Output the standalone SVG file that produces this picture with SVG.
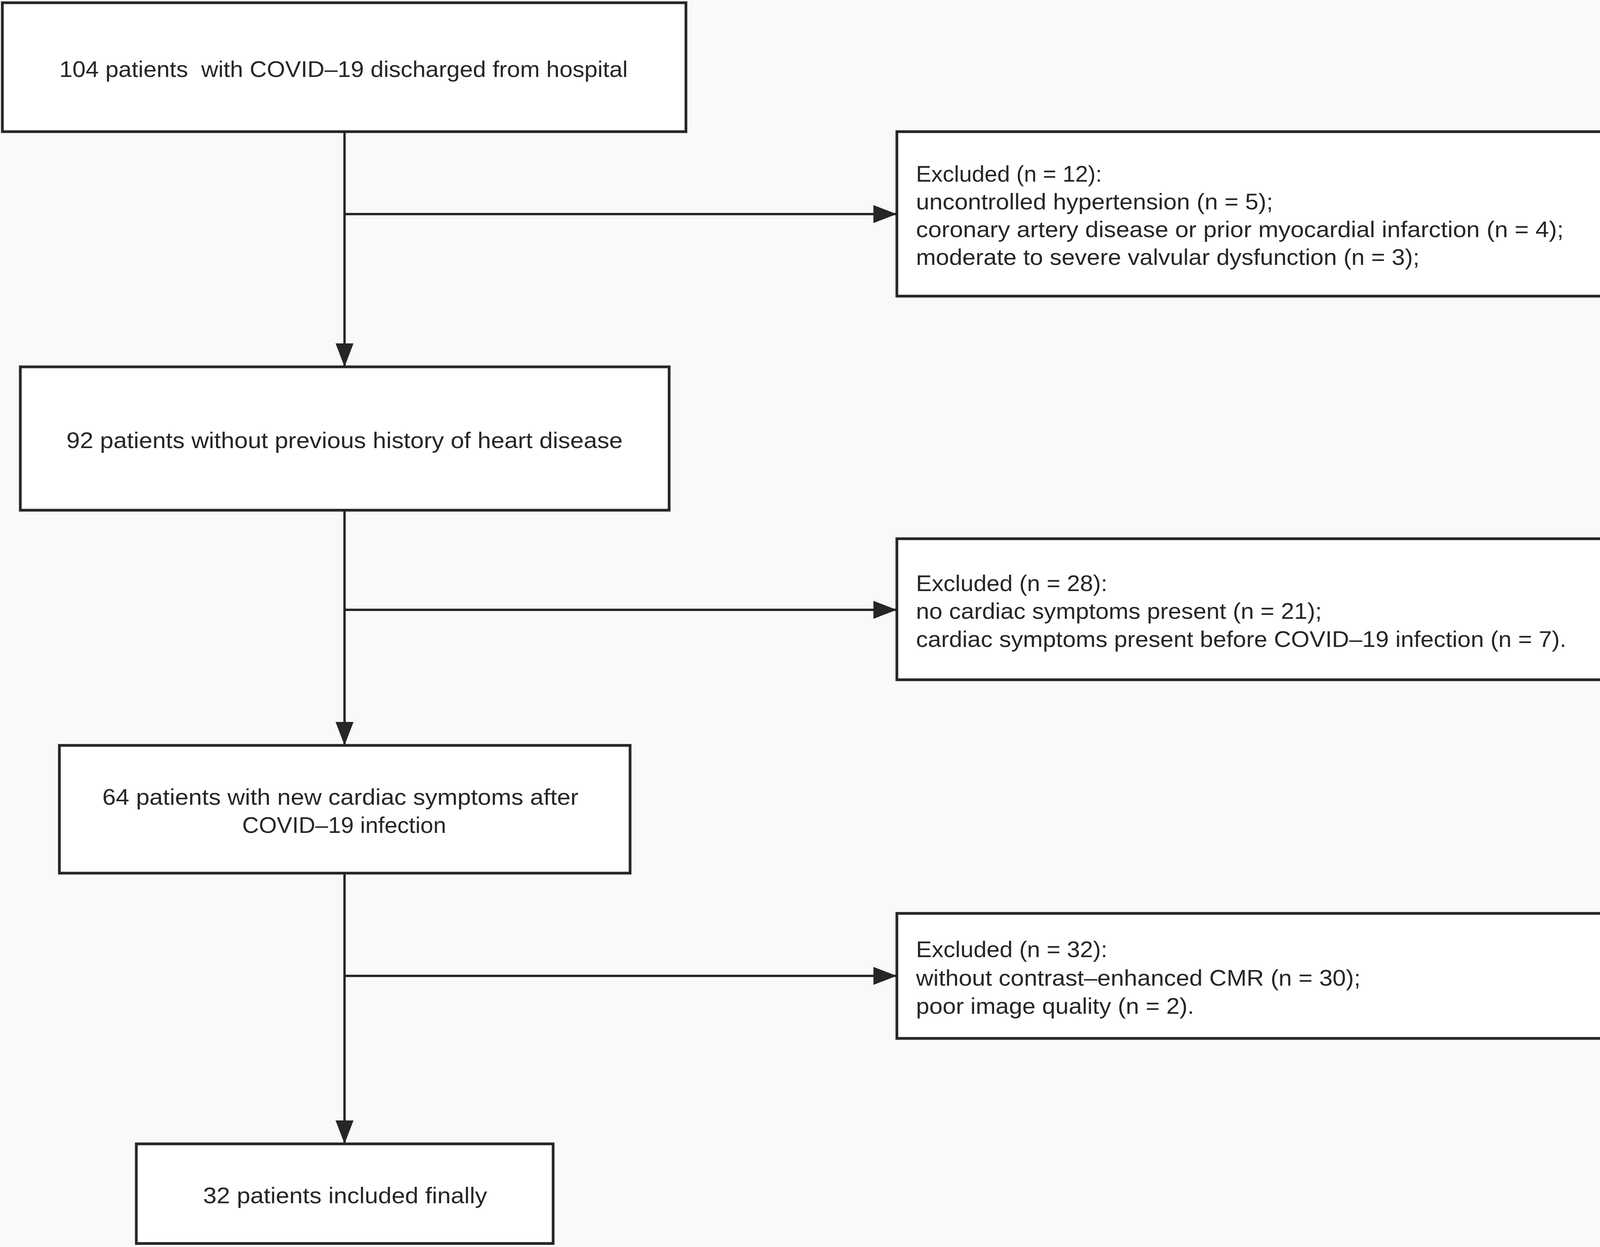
<svg xmlns="http://www.w3.org/2000/svg" width="4317" height="3192" viewBox="0 0 4317 3192">
<style>
  .box { fill: #ffffff; stroke: #262626; stroke-width: 7; }
  .conn { fill: none; stroke: #262626; stroke-width: 6; }
  .t { font-family: "Liberation Sans", Arial, sans-serif; font-size: 57px; fill: #262626; }
</style>
<defs>
  <marker id="ah" markerWidth="60" markerHeight="46" refX="60" refY="23" orient="auto" markerUnits="userSpaceOnUse">
    <path d="M0,0 L60,23 L0,46 Z" fill="#262626"/>
  </marker>
</defs>
<rect x="0" y="0" width="4317" height="3192" fill="#f9f9f9"/>

<g id="connectors">
  <line class="conn" x1="882" y1="337" x2="882" y2="939" marker-end="url(#ah)"/>
  <line class="conn" x1="882" y1="548" x2="2296" y2="548" marker-end="url(#ah)"/>
  <line class="conn" x1="882" y1="1306" x2="882" y2="1908" marker-end="url(#ah)"/>
  <line class="conn" x1="882" y1="1561" x2="2296" y2="1561" marker-end="url(#ah)"/>
  <line class="conn" x1="882" y1="2235" x2="882" y2="2928" marker-end="url(#ah)"/>
  <line class="conn" x1="882" y1="2498" x2="2296" y2="2498" marker-end="url(#ah)"/>
</g>

<g id="n1">
  <rect class="box" x="6" y="7" width="1750" height="330"/>
  <text class="t" x="152" y="197" textLength="1455" lengthAdjust="spacingAndGlyphs" xml:space="preserve">104 patients  with COVID–19 discharged from hospital</text>
</g>

<g id="n2">
  <rect class="box" x="52" y="939" width="1661" height="367"/>
  <text class="t" x="170" y="1147" textLength="1424" lengthAdjust="spacingAndGlyphs">92 patients without previous history of heart disease</text>
</g>

<g id="n3">
  <rect class="box" x="152" y="1908" width="1461" height="327"/>
  <text class="t" x="262" y="2060" textLength="1219" lengthAdjust="spacingAndGlyphs">64 patients with new cardiac symptoms after</text>
  <text class="t" x="620" y="2132" textLength="522" lengthAdjust="spacingAndGlyphs">COVID–19 infection</text>
</g>

<g id="n4">
  <rect class="box" x="349" y="2928" width="1067" height="255"/>
  <text class="t" x="520" y="3080" textLength="727" lengthAdjust="spacingAndGlyphs">32 patients included finally</text>
</g>

<g id="ex1">
  <rect class="box" x="2296" y="337" width="2010" height="421"/>
  <text class="t" x="2345" y="465" textLength="476" lengthAdjust="spacingAndGlyphs">Excluded (n = 12):</text>
  <text class="t" x="2345" y="536" textLength="914" lengthAdjust="spacingAndGlyphs">uncontrolled hypertension (n = 5);</text>
  <text class="t" x="2345" y="607" textLength="1658" lengthAdjust="spacingAndGlyphs">coronary artery disease or prior myocardial infarction (n = 4);</text>
  <text class="t" x="2345" y="678" textLength="1289" lengthAdjust="spacingAndGlyphs">moderate to severe valvular dysfunction (n = 3);</text>
</g>

<g id="ex2">
  <rect class="box" x="2296" y="1379" width="2010" height="361"/>
  <text class="t" x="2345" y="1513" textLength="490" lengthAdjust="spacingAndGlyphs">Excluded (n = 28):</text>
  <text class="t" x="2345" y="1584" textLength="1039" lengthAdjust="spacingAndGlyphs">no cardiac symptoms present (n = 21);</text>
  <text class="t" x="2345" y="1656" textLength="1665" lengthAdjust="spacingAndGlyphs">cardiac symptoms present before COVID–19 infection (n = 7).</text>
</g>

<g id="ex3">
  <rect class="box" x="2296" y="2338" width="2010" height="320"/>
  <text class="t" x="2345" y="2450" textLength="490" lengthAdjust="spacingAndGlyphs">Excluded (n = 32):</text>
  <text class="t" x="2345" y="2523" textLength="1138" lengthAdjust="spacingAndGlyphs">without contrast–enhanced CMR (n = 30);</text>
  <text class="t" x="2345" y="2595" textLength="712" lengthAdjust="spacingAndGlyphs">poor image quality (n = 2).</text>
</g>
</svg>
